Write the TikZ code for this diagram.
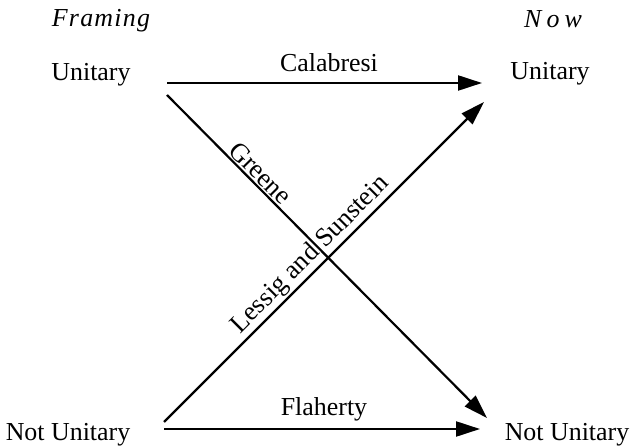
\documentclass[tikz,border=0pt]{standalone}
\usepackage{fontspec}
\setmainfont{Liberation Serif}
\usetikzlibrary{arrows.meta}
\tikzset{
  lbl/.style={font=\fontsize{26}{30}\selectfont, inner sep=0pt, anchor=base},
  head/.style={font=\fontsize{26}{30}\selectfont\itshape, inner sep=0pt, anchor=base},
  conn/.style={line width=2.2bp, -{Triangle[length=24bp,width=15bp]}},
  onl/.style={font=\fontsize{26.5}{30}\selectfont, sloped, above, inner sep=1.5bp}
}
\begin{document}
\begin{tikzpicture}[x=1bp,y=-1bp]
\useasboundingbox (0,0) rectangle (635,448);
% headings
\node[head] (framing) at (101,27) {\addfontfeature{LetterSpace=5}Framing};
\node[head] (now) at (553,28) {\addfontfeature{LetterSpace=20}Now};
% state labels
\node[lbl] (ul) at (91,81) {Unitary};
\node[lbl] (ur) at (550,80) {Unitary};
\node[lbl] (nl) at (68,440) {Not Unitary};
\node[lbl] (nr) at (567,440) {Not Unitary};
% connector end points
\coordinate (cs) at (167,83);
\coordinate (ce) at (482,83);
\coordinate (fs) at (164,429);
\coordinate (fe) at (480,429);
\coordinate (gs) at (167,95);
\coordinate (ge) at (487,418);
\coordinate (ls) at (164,422);
\coordinate (le) at (484,102);
% connectors
\draw[conn] (cs) -- (ce);
\draw[conn] (fs) -- (fe);
\draw[conn] (gs) -- node[onl, pos=0.267] (greene) {Greene} (ge);
\draw[conn] (ls) -- node[onl, pos=0.49] (lessig) {Lessig and Sunstein} (le);
% horizontal labels
\node[lbl] (calabresi) at (329,72) {Calabresi};
\node[lbl] (flaherty) at (324,415) {Flaherty};
\end{tikzpicture}
\end{document}
